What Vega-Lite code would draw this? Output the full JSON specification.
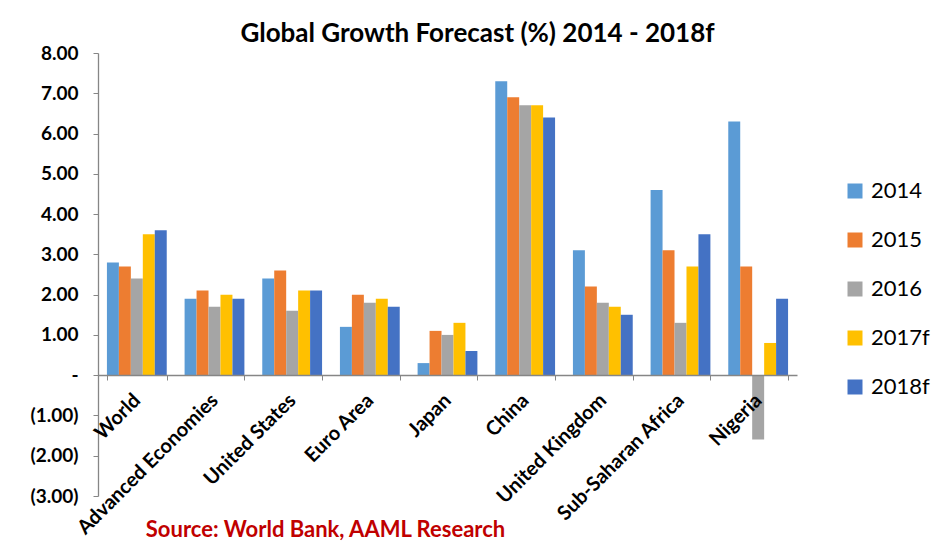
{
  "$schema": "https://vega.github.io/schema/vega-lite/v6.json",
  "width": 699,
  "height": 443,
  "autosize": {"type": "none"},
  "padding": {"left": 98, "top": 53, "right": 140, "bottom": 52},
  "background": "white",
  "config": {"view": {"stroke": null}, "font": "Lato"},
  "title": {
    "text": "Global Growth Forecast (%) 2014 - 2018f",
    "font": "Lato",
    "fontSize": 26,
    "fontWeight": "bold",
    "color": "black",
    "anchor": "middle",
    "dx": 30,
    "offset": -3
  },
  "data": {
    "values": [
      {"region": "World", "year": "2014", "growth": 2.8},
      {"region": "World", "year": "2015", "growth": 2.7},
      {"region": "World", "year": "2016", "growth": 2.4},
      {"region": "World", "year": "2017f", "growth": 3.5},
      {"region": "World", "year": "2018f", "growth": 3.6},
      {"region": "Advanced Economies", "year": "2014", "growth": 1.9},
      {"region": "Advanced Economies", "year": "2015", "growth": 2.1},
      {"region": "Advanced Economies", "year": "2016", "growth": 1.7},
      {"region": "Advanced Economies", "year": "2017f", "growth": 2.0},
      {"region": "Advanced Economies", "year": "2018f", "growth": 1.9},
      {"region": "United States", "year": "2014", "growth": 2.4},
      {"region": "United States", "year": "2015", "growth": 2.6},
      {"region": "United States", "year": "2016", "growth": 1.6},
      {"region": "United States", "year": "2017f", "growth": 2.1},
      {"region": "United States", "year": "2018f", "growth": 2.1},
      {"region": "Euro Area", "year": "2014", "growth": 1.2},
      {"region": "Euro Area", "year": "2015", "growth": 2.0},
      {"region": "Euro Area", "year": "2016", "growth": 1.8},
      {"region": "Euro Area", "year": "2017f", "growth": 1.9},
      {"region": "Euro Area", "year": "2018f", "growth": 1.7},
      {"region": "Japan", "year": "2014", "growth": 0.3},
      {"region": "Japan", "year": "2015", "growth": 1.1},
      {"region": "Japan", "year": "2016", "growth": 1.0},
      {"region": "Japan", "year": "2017f", "growth": 1.3},
      {"region": "Japan", "year": "2018f", "growth": 0.6},
      {"region": "China", "year": "2014", "growth": 7.3},
      {"region": "China", "year": "2015", "growth": 6.9},
      {"region": "China", "year": "2016", "growth": 6.7},
      {"region": "China", "year": "2017f", "growth": 6.7},
      {"region": "China", "year": "2018f", "growth": 6.4},
      {"region": "United Kingdom", "year": "2014", "growth": 3.1},
      {"region": "United Kingdom", "year": "2015", "growth": 2.2},
      {"region": "United Kingdom", "year": "2016", "growth": 1.8},
      {"region": "United Kingdom", "year": "2017f", "growth": 1.7},
      {"region": "United Kingdom", "year": "2018f", "growth": 1.5},
      {"region": "Sub-Saharan Africa", "year": "2014", "growth": 4.6},
      {"region": "Sub-Saharan Africa", "year": "2015", "growth": 3.1},
      {"region": "Sub-Saharan Africa", "year": "2016", "growth": 1.3},
      {"region": "Sub-Saharan Africa", "year": "2017f", "growth": 2.7},
      {"region": "Sub-Saharan Africa", "year": "2018f", "growth": 3.5},
      {"region": "Nigeria", "year": "2014", "growth": 6.3},
      {"region": "Nigeria", "year": "2015", "growth": 2.7},
      {"region": "Nigeria", "year": "2016", "growth": -1.6},
      {"region": "Nigeria", "year": "2017f", "growth": 0.8},
      {"region": "Nigeria", "year": "2018f", "growth": 1.9}
    ]
  },
  "mark": {"type": "bar"},
  "encoding": {
    "x": {
      "field": "region",
      "type": "nominal",
      "sort": null,
      "scale": {"paddingInner": 0.23, "paddingOuter": 0.115},
      "axis": {
        "zindex": 1,
        "title": "Source: World Bank, AAML Research",
        "titleFont": "Lato",
        "titleFontSize": 22,
        "titleFontWeight": "bold",
        "titleColor": "#C00000",
        "titleX": 227,
        "titleY": 161,
        "titleAlign": "center",
        "titleBaseline": "alphabetic",
        "titleAnchor": null,
        "offset": -121,
        "domainColor": "#868686",
        "domainWidth": 1.3,
        "tickColor": "#868686",
        "tickSize": 5,
        "tickBand": "extent",
        "labelAngle": -45,
        "labelAlign": "right",
        "labelBaseline": "middle",
        "labelFont": "Lato",
        "labelFontSize": 20,
        "labelFontWeight": "bold",
        "labelColor": "black",
        "labelPadding": 17,
        "labelOverlap": false,
        "labelLimit": 0
      }
    },
    "y": {
      "field": "growth",
      "type": "quantitative",
      "scale": {"domain": [-3, 8], "nice": false, "zero": false},
      "axis": {
        "title": null,
        "values": [-3, -2, -1, 0, 1, 2, 3, 4, 5, 6, 7, 8],
        "labelExpr": "datum.value == 0 ? '-\u2007\u2009' : (datum.value < 0 ? '(' + format(-datum.value, '.2f') + ')' : format(datum.value, '.2f') + '\u2009')",
        "grid": false,
        "domainColor": "#868686",
        "domainWidth": 1.3,
        "tickColor": "#868686",
        "tickSize": 5,
        "labelFont": "Lato",
        "labelFontSize": 19,
        "labelFontWeight": "bold",
        "labelColor": "black",
        "labelPadding": 15
      }
    },
    "xOffset": {
      "field": "year",
      "type": "nominal",
      "sort": ["2014", "2015", "2016", "2017f", "2018f"],
      "scale": {"paddingInner": 0, "paddingOuter": 0}
    },
    "color": {
      "field": "year",
      "type": "nominal",
      "sort": ["2014", "2015", "2016", "2017f", "2018f"],
      "scale": {
        "domain": ["2014", "2015", "2016", "2017f", "2018f"],
        "range": ["#5B9BD5", "#ED7D31", "#A5A5A5", "#FFC000", "#4472C4"]
      },
      "legend": {
        "title": null,
        "orient": "none",
        "legendX": 746,
        "legendY": 127,
        "symbolType": "square",
        "symbolSize": 225,
        "symbolStrokeWidth": 0,
        "labelFont": "Lato",
        "labelFontSize": 22,
        "labelColor": "black",
        "labelOffset": 5,
        "rowPadding": 27
      }
    }
  }
}
